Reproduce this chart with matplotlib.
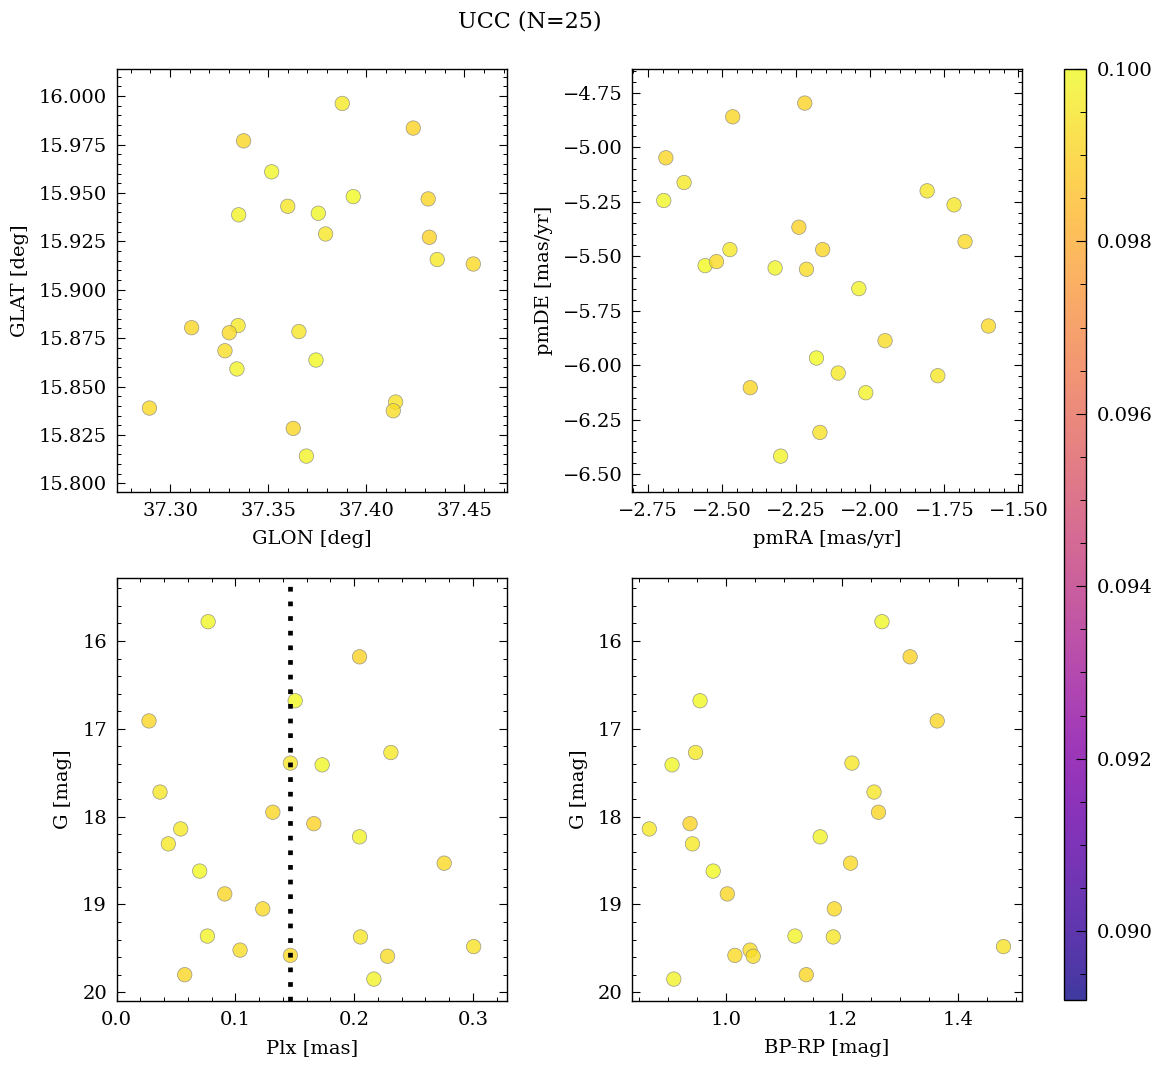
import numpy as np
import matplotlib
matplotlib.use("Agg")
import matplotlib.pyplot as plt

# member stars of the cluster (one entry per star)
glon = [37.3518, 37.4240, 37.3934, 37.3375, 37.3878, 37.3600, 37.3756, 37.3793,
        37.4316, 37.4322, 37.4362, 37.3350, 37.3347, 37.4546, 37.3744, 37.3110,
        37.3302, 37.3341, 37.3657, 37.4150, 37.3280, 37.2895, 37.4138, 37.3628,
        37.3695]
glat = [15.9609, 15.9835, 15.9481, 15.9769, 15.9962, 15.9431, 15.9395, 15.9288,
        15.9469, 15.9271, 15.9156, 15.9387, 15.8815, 15.9133, 15.8637, 15.8804,
        15.8778, 15.8591, 15.8784, 15.8420, 15.8685, 15.8389, 15.8375, 15.8284,
        15.8141]
pmra = [-2.6965, -2.2209, -2.5570, -2.4640, -2.6279, -1.8081, -2.3209, -1.7174,
        -2.6895, -2.2407, -2.4733, -2.0384, -2.1081, -1.6802, -2.1814, -2.1605,
        -2.5186, -2.0151, -1.7721, -2.1698, -2.2151, -1.6012, -1.9500, -2.4047,
        -2.3023]
pmde = [-5.2446, -4.7975, -5.5433, -4.8603, -5.1620, -5.2002, -5.5540, -5.2645,
        -5.0486, -5.3672, -5.4698, -5.6489, -6.0364, -5.4330, -5.9675, -5.4698,
        -5.5249, -6.1267, -6.0486, -6.3090, -5.5601, -5.8205, -5.8878, -6.1037,
        -6.4177]
plx = [0.0770, 0.2045, 0.1503, 0.0272, 0.2309, 0.1463, 0.1730, 0.0365,
       0.1315, 0.1660, 0.0539, 0.2045, 0.0435, 0.2758, 0.0699, 0.0910,
       0.1230, 0.0764, 0.2053, 0.3006, 0.1039, 0.1463, 0.2281, 0.0573,
       0.2166]
gmag = [15.78, 16.18, 16.68, 16.91, 17.27, 17.39, 17.41, 17.72,
        17.95, 18.08, 18.14, 18.23, 18.31, 18.53, 18.62, 18.88,
        19.05, 19.36, 19.37, 19.48, 19.52, 19.58, 19.59, 19.80,
        19.85]
bprp = [1.2685, 1.3170, 0.9548, 1.3637, 0.9470, 1.2167, 0.9065, 1.2548,
        1.2625, 0.9375, 0.8673, 1.1619, 0.9417, 1.2143, 0.9774, 1.0018,
        1.1863, 1.1185, 1.1845, 1.4780, 1.0410, 1.0149, 1.0464, 1.1380,
        0.9095]
prob = [0.0999, 0.0990, 0.1000, 0.0991, 0.0996, 0.0995, 0.0999, 0.0995,
        0.0991, 0.0990, 0.0996, 0.0998, 0.0996, 0.0992, 0.1000, 0.0991,
        0.0992, 0.0998, 0.0995, 0.0994, 0.0993, 0.0992, 0.0993, 0.0991,
        0.0998]

plt.rcParams.update({
    "font.family": "DejaVu Serif",
    "font.size": 14,
    "axes.linewidth": 1.0,
    "axes.labelpad": 7,
    "xtick.direction": "in",
    "ytick.direction": "in",
    "xtick.top": True,
    "ytick.right": True,
    "xtick.minor.visible": True,
    "ytick.minor.visible": True,
    "xtick.major.size": 6,
    "ytick.major.size": 6,
    "xtick.minor.size": 3.2,
    "ytick.minor.size": 3.2,
    "xtick.major.width": 0.8,
    "ytick.major.width": 0.8,
    "xtick.minor.width": 0.7,
    "ytick.minor.width": 0.7,
    "xtick.major.pad": 7.5,
    "ytick.major.pad": 7,
})

fig = plt.figure(figsize=(11.61, 10.68), dpi=100)
w, h = 0.3359, 0.3958
ax1 = fig.add_axes([0.1005, 0.5396, w, h])
ax2 = fig.add_axes([0.5444, 0.5396, w, h])
ax3 = fig.add_axes([0.1005, 0.0627, w, h])
ax4 = fig.add_axes([0.5444, 0.0627, w, h])
cax = fig.add_axes([0.9167, 0.0637, 0.0187, 0.8717])

vmin, vmax = 0.0892, 0.1000
kw = dict(c=prob, cmap="plasma", vmin=vmin, vmax=vmax, s=108, alpha=0.8,
          edgecolors="gray", linewidths=0.5)

im = ax1.scatter(glon, glat, **kw)
ax1.set_xlim(37.2728, 37.4716)
ax1.set_ylim(15.7957, 16.014)
ax1.set_xlabel("GLON [deg]")
ax1.set_ylabel("GLAT [deg]")

ax2.scatter(pmra, pmde, **kw)
ax2.set_xlim(-2.8035, -1.488)
ax2.set_ylim(-6.581, -4.641)
ax2.set_xlabel("pmRA [mas/yr]")
ax2.set_ylabel("pmDE [mas/yr]")

ax3.scatter(plx, gmag, **kw)
ax3.axvline(np.median(plx), color="black", ls=(0, (1, 2.1)), lw=3.4)
ax3.set_xlim(0.0, 0.3284)
ax3.set_ylim(20.10, 15.286)
ax3.set_xlabel("Plx [mas]")
ax3.set_ylabel("G [mag]")

ax4.scatter(bprp, gmag, **kw)
ax4.set_xlim(0.8375, 1.510)
ax4.set_ylim(20.10, 15.286)
ax4.set_xlabel("BP-RP [mag]")
ax4.set_ylabel("G [mag]")

cb = fig.colorbar(im, cax=cax)
cb.ax.minorticks_on()
cb.ax.tick_params(which="major", direction="in", length=7, right=True, left=False, pad=8)
cb.ax.tick_params(which="minor", direction="in", length=4, right=True, left=False)
cb.outline.set_linewidth(1.0)

fig.suptitle("UCC (N=25)", x=0.456, y=0.99, fontsize=16)

fig.savefig("out.png", dpi=100)
